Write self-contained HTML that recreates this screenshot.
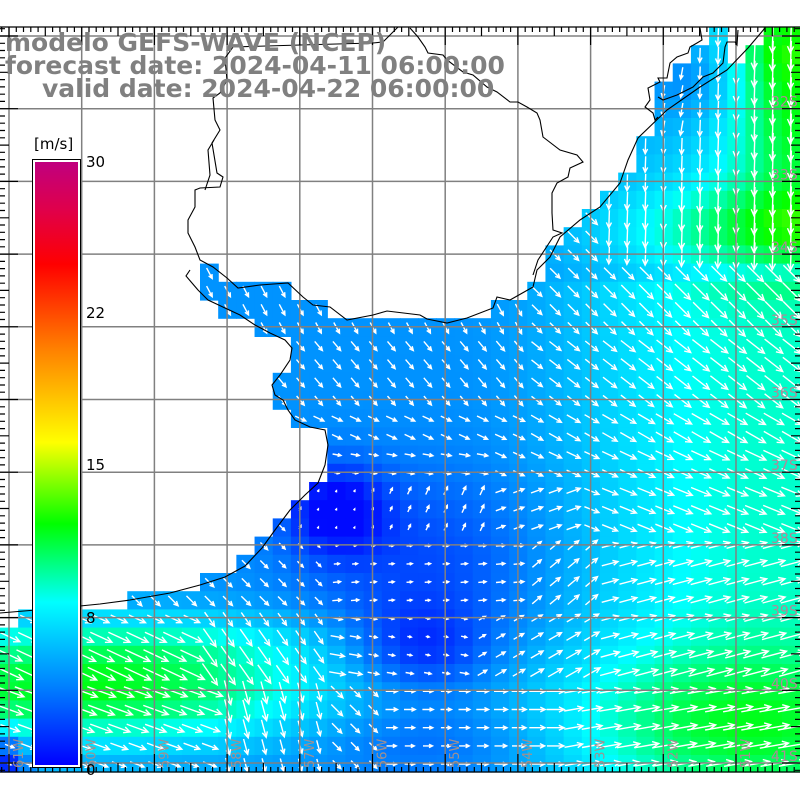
<!DOCTYPE html>
<html><head><meta charset="utf-8">
<style>
html,body{margin:0;padding:0;background:#fff;}
#c{position:relative;width:800px;height:800px;overflow:hidden;}
svg{position:absolute;left:0;top:0;}
.t{font-family:"DejaVu Sans","Liberation Sans",sans-serif;font-weight:bold;font-size:25px;fill:#808080;}
.l{font-family:"DejaVu Sans","Liberation Sans",sans-serif;font-size:15px;fill:#000;}
.lat{font-family:"DejaVu Sans","Liberation Sans",sans-serif;font-size:14px;fill:#b08898;}
.lon{font-family:"DejaVu Sans","Liberation Sans",sans-serif;font-size:13px;fill:#a09090;}
</style></head>
<body><div id="c"><svg id="s" width="800" height="800" xmlns="http://www.w3.org/2000/svg">
<defs><linearGradient id="cb" x1="0" y1="0" x2="0" y2="1">
<stop offset="0" stop-color="#c0007f"/><stop offset="0.08" stop-color="#e0004a"/><stop offset="0.17" stop-color="#ff0000"/><stop offset="0.31" stop-color="#ff8000"/><stop offset="0.465" stop-color="#ffff00"/><stop offset="0.6" stop-color="#00ff00"/><stop offset="0.73" stop-color="#00ffff"/><stop offset="0.87" stop-color="#0080ff"/><stop offset="1" stop-color="#0000ff"/>
</linearGradient></defs>
<g id="cells"></g><g id="arr" stroke="#fff" stroke-width="1.4" fill="none"></g><g id="grid" stroke="#808080" stroke-width="1.5"></g>
<g id="coast" stroke="#000" stroke-width="1.1" fill="none">
<path d="M0,613 L60,608 L100,604 L130,600 L170,593 L200,585 L225,577 L245,566 L262,548 L275,530 L290,510 L305,495 L318,483 L325,465 L328,445 L325,430 L310,427 L295,420 L288,410 L283,400 L275,395 L272,385 L280,375 L290,360 L292,348 L285,340 L270,333 L255,325 L240,315 L225,308 L208,300 L198,290 L192,283 L186,276 L190,270"/>
<path d="M398,27 L393,32 L383,42 L373,43 L300,45 L233,47 L225,58 L227,80 L220,93 L213,98 L215,120 L220,130 L212,143 L217,173 L223,177 L220,187 L200,188 L195,190 L195,207 L188,220 L188,233 L195,247 L200,260 L213,267 L227,278 L238,288 L260,285 L288,283 L303,297 L313,305 L330,307 L347,320 L373,315 L387,311 L420,315 L427,319 L447,323 L467,318 L493,308 L497,297 L510,300 L533,287 L537,270 L550,257 L560,237 L580,220 L600,207 L620,183 L628,160 L638,138 L667,110 L700,87 L727,70 L748,48 L765,28"/>
<path d="M410,28 L418,37 L425,47 L428,53 L443,55 L447,60 L463,72 L473,75 L487,87 L497,92 L510,102 L518,102 L527,107 L537,113 L540,120 L543,137 L560,150 L577,155 L583,162 L570,168 L568,177 L557,183 L552,193 L552,213 L553,230 L562,233 L553,237 L538,260 L533,275"/>
<path d="M205,190 L210,175 L208,150 L214,140"/>
<path d="M700,28 L702,40 L697,43 L690,47 L688,53 L677,57 L670,63 L667,78 L658,78 L660,82 L648,88 L650,100 L645,107 L653,113 L655,120 L658,117 M658,97 L663,100 L677,95 L693,87 L703,77 L713,73 L723,63 L725,47 L727,42 L735,42 L737,45 L738,30"/>
</g>
<g id="ticks" stroke="#000" stroke-width="1.2"></g>
<g id="labs"></g>
<rect x="32" y="159" width="49" height="609" fill="#000"/>
<rect x="33" y="160" width="47" height="607" fill="#fff"/>
<rect x="35" y="162" width="43" height="603" fill="url(#cb)"/>
<text class="l" x="34" y="149">[m/s]</text>
<text class="l" x="86" y="167">30</text>
<text class="l" x="86" y="318">22</text>
<text class="l" x="86" y="470">15</text>
<text class="l" x="86" y="623">8</text>
<text class="l" x="86" y="775">0</text>
<text class="t" x="5" y="51">modelo GEFS-WAVE (NCEP)</text>
<text class="t" x="5" y="74">forecast date: 2024-04-11 06:00:00</text>
<text class="t" x="42" y="97">valid date: 2024-04-22 06:00:00</text>
</svg></div>
<script>
(function(){
var NS="http://www.w3.org/2000/svg";
function el(p,t,a){var e=document.createElementNS(NS,t);for(var k in a)e.setAttribute(k,a[k]);p.appendChild(e);return e;}
var CW=800/44,RH=18.2,Y0=27,YB=772;
function cx(x){return Math.round(x/CW);}
var W=[];
function set(r,a){W[r]=a;}
set(0,[[709,727],[764,800]]);set(1,[[691,727],[745,800]]);set(2,[[673,800]]);set(3,[[655,800]]);
set(4,[[655,800]]);set(5,[[655,800]]);set(6,[[636,800]]);set(7,[[636,800]]);set(8,[[618,800]]);
set(9,[[600,800]]);set(10,[[582,800]]);set(11,[[564,800]]);set(12,[[545,800]]);
set(13,[[200,218],[545,800]]);set(14,[[200,291],[527,800]]);set(15,[[218,327],[491,800]]);
set(16,[[255,800]]);set(17,[[291,800]]);set(18,[[291,800]]);set(19,[[273,800]]);set(20,[[273,800]]);
set(21,[[291,800]]);set(22,[[327,800]]);set(23,[[327,800]]);set(24,[[327,800]]);set(25,[[309,800]]);
set(26,[[291,800]]);set(27,[[273,800]]);set(28,[[255,800]]);set(29,[[236,800]]);set(30,[[200,800]]);
set(31,[[127,800]]);set(32,[[18,800]]);
for(var r=33;r<41;r++)set(r,[[0,800]]);
function G(x,y,a,b,rx,ry){var dx=(x-a)/rx,dy=(y-b)/ry;return Math.exp(-dx*dx-dy*dy);}
function sm(t){t=Math.max(0,Math.min(1,t));return t*t*(3-2*t);}
function spd(x,y){
 var s=4.6+4.2*sm((x-450)/330)*(y>280?1:0.5);
 s+=4.5*G(x,y,800,230,170,45)+5*G(x,y,800,110,70,110)+2.5*G(x,y,780,40,40,40);
 s-=2*G(x,y,690,80,50,50);
 s+=7*G(x,y,80,690,250,55)+2*G(x,y,150,640,200,30);
 s+=3*G(x,y,720,720,180,70);
 s-=4.3*G(x,y,335,510,50,45)+3.2*G(x,y,420,650,70,45)+2.2*G(x,y,420,560,120,90);
 s-=1.5*G(x,y,420,740,110,40);
 s-=5*G(x,y,0,760,25,25);
 return Math.max(0.3,Math.min(13,s));
}
function ang(x,y){
 if(y<270&&x>600){return (x<700&&y<130)?100:92;}
 if(y<330)return x<520?62:45;
 if(y<410)return x<520?50:38;
 if(y<440)return x<520?25:30;
 if(y<480)return x<500?10:25;
 if(y<545){if(x<300)return 45;if(x<500)return -65;if(x<590)return -20;return 22;}
 if(y<610){if(x<330)return 45;if(x<520)return -5;if(x<600)return -40;return -15;}
 if(y<690){if(x<200)return 25;if(x<330)return 55;if(x<480)return 10;if(x<600)return -30;return -15;}
 if(x<220)return 20;if(x<320)return 75;if(x<380)return 45;if(x<560)return 0;return -10;
}
var st=[[0,0,0,255],[4,0,128,255],[8,0,255,255],[12,0,255,0],[16,255,255,0],[20.7,255,128,0],[24.9,255,0,0],[30,192,0,127]];
function col(v){for(var i=0;i<st.length-1;i++){var a=st[i],b=st[i+1];if(v<=b[0]){var t=(v-a[0])/(b[0]-a[0]);return "rgb("+Math.round(a[1]+(b[1]-a[1])*t)+","+Math.round(a[2]+(b[2]-a[2])*t)+","+Math.round(a[3]+(b[3]-a[3])*t)+")";}}return "rgb(192,0,127)";}
var cg=document.getElementById("cells"),ag=document.getElementById("arr");
var d="";
for(var r=0;r<41;r++){var y0=Y0+r*RH,y1=Math.min(YB,y0+RH);var ints=W[r];
 for(var k=0;k<ints.length;k++){var c0=cx(ints[k][0]),c1=cx(ints[k][1]);
  for(var c=c0;c<c1;c++){var x=(c+0.5)*CW,y=y0+RH/2;var s=spd(x,y);
   el(cg,"rect",{x:(c*CW).toFixed(2),y:y0.toFixed(2),width:(CW+0.6).toFixed(2),height:(y1-y0+0.6).toFixed(2),fill:col(s)});
   var a=ang(x,y)*Math.PI/180,L=Math.min(30,2.6*s),ux=Math.cos(a),uy=Math.sin(a);
   var xs=x-ux*L*0.45,ys=y-uy*L*0.45,xe=x+ux*L*0.55,ye=y+uy*L*0.55;
   var h=Math.min(7,1.5+L*0.25);
   var a1=a+Math.PI-0.45,a2=a+Math.PI+0.45;
   d+="M"+xs.toFixed(1)+","+ys.toFixed(1)+"L"+xe.toFixed(1)+","+ye.toFixed(1)+
      "M"+(xe+h*Math.cos(a1)).toFixed(1)+","+(ye+h*Math.sin(a1)).toFixed(1)+"L"+xe.toFixed(1)+","+ye.toFixed(1)+
      "L"+(xe+h*Math.cos(a2)).toFixed(1)+","+(ye+h*Math.sin(a2)).toFixed(1);
  }}}
el(ag,"path",{d:d});
var gg=document.getElementById("grid"),tg=document.getElementById("ticks"),lg=document.getElementById("labs");
for(var i=0;i<11;i++){var gx=9+i*72.7;el(gg,"line",{x1:gx,y1:Y0,x2:gx,y2:YB});
 var gy=36+i*72.7;el(gg,"line",{x1:0,y1:gy,x2:800,y2:gy});}
var td="";
for(var i=-2;i<120;i++){var p=9+i*7.27;var m=((i%10)+10)%10;var len=m==0?18:(m==5?9:5);
 if(p>=0&&p<=800){td+="M"+p.toFixed(1)+","+Y0+"v"+len+"M"+p.toFixed(1)+","+YB+"v-"+len;}
 var q=36+i*7.27;if(q>=Y0&&q<=YB){td+="M0,"+q.toFixed(1)+"h"+len+"M800,"+q.toFixed(1)+"h-"+len;}}
td+="M0,"+Y0+"H800M0,"+YB+"H800";
el(tg,"path",{d:td});
for(var i=1;i<11;i++){var t=el(lg,"text",{class:"lat",x:771,y:(36+i*72.7-2).toFixed(1)});t.textContent=(31+i)+"S";}
for(var i=0;i<11;i++){var x=9+i*72.7+4;var t=el(lg,"text",{class:"lon",x:0,y:0,transform:"translate("+(x+10).toFixed(1)+",768) rotate(-90)"});t.textContent=(61-i)+"W";}
})();
</script>
</body></html>
